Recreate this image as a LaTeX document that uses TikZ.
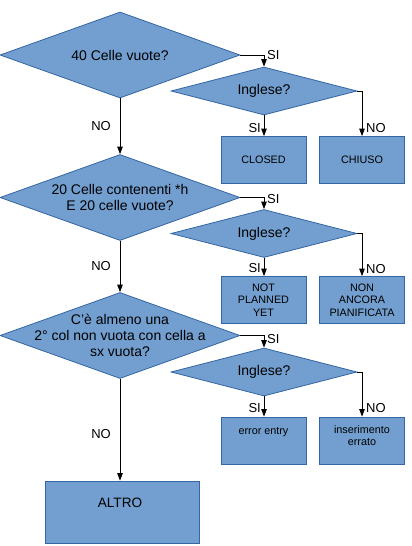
\documentclass[tikz,border=0pt]{standalone}
\usepackage{fontspec}
\setmainfont{Liberation Sans}
\usetikzlibrary{shapes.geometric,arrows.meta,calc}
\definecolor{fillb}{HTML}{729FCF}
\definecolor{lineb}{HTML}{3465A4}
\begin{document}
\begin{tikzpicture}[x=1pt,y=-1pt,
  dia/.style={diamond,draw=lineb,fill=fillb,line width=0.8pt,inner sep=0pt,aspect=1},
  bigdia/.style={dia,minimum width=240,minimum height=86},
  smalldia/.style={dia,minimum width=186,minimum height=48},
  box/.style={rectangle,draw=lineb,fill=fillb,line width=0.8pt,inner sep=0pt,align=center,
    font=\fontsize{10.8}{12.3}\selectfont},
  rbox/.style={box,minimum width=85,minimum height=47},
  dtext/.style={inner sep=0pt,align=center,font=\fontsize{14}{16.3}\selectfont},
  btext/.style={inner sep=0pt,align=center,font=\fontsize{10.8}{12.3}\selectfont},
  lbl/.style={inner sep=0pt,font=\fontsize{13}{14}\selectfont},
  arr/.style={draw=black,line width=0.8pt,-{Triangle[length=7.5pt,width=5.5pt]}}
]
\useasboundingbox (0,0) rectangle (412,546);

% first block
\node[bigdia] (d1) at (120,55) {};
\node[dtext] (t1) at (d1.center) {40 Celle vuote?};
\node[smalldia] (s1) at (264,91) {};
\node[dtext] (ts1) at (s1.center) {Inglese?};
\node[rbox] (b1) at (263.5,160) {CLOSED};
\node[rbox] (b2) at (362,160) {CHIUSO};

% second block
\node[bigdia] (d2) at (120,197.5) {};
\node[dtext] (t2) at (d2.center) {20 Celle contenenti *h\\E 20 celle vuote?};
\node[smalldia] (s2) at (264,233.5) {};
\node[dtext] (ts2) at (s2.center) {Inglese?};
\node[rbox] (b3) at (263.5,300) {NOT\\PLANNED\\YET};
\node[rbox] (b4) at (362,300) {NON\\ANCORA\\PIANIFICATA};

% third block
\node[bigdia] (d3) at (120,335.5) {};
\node[dtext] (t3) at (d3.center) {C'è almeno una\\2° col non vuota con cella a\\sx vuota?};
\node[smalldia] (s3) at (264,372) {};
\node[dtext] (ts3) at (s3.center) {Inglese?};
\node[rbox] (b5) at (263.5,440.5) {};
\node[btext,anchor=mid] (tb5) at (263.5,432) {error entry};
\node[rbox] (b6) at (362,440.5) {};
\node[btext,anchor=north] (tb6) at (362,425.5) {inserimento\\errato};

\node[box,minimum width=154,minimum height=62] (b7) at (122,512) {};
\node[inner sep=0pt,anchor=mid,font=\fontsize{13.6}{16}\selectfont] (tb7) at (120,505) {ALTRO};

% connectors
\draw[arr] (d1.east) -| (s1.north);
\draw[arr] (s1.south) -- (s1.south |- b1.north);
\draw[arr] (s1.east) -| (b2.north);
\draw[arr] (d1.south) -- (d2.north);

\draw[arr] (d2.east) -| (s2.north);
\draw[arr] (s2.south) -- (s2.south |- b3.north);
\draw[arr] (s2.east) -| (b4.north);
\draw[arr] (d2.south) -- (d3.north);

\draw[arr] (d3.east) -| (s3.north);
\draw[arr] (s3.south) -- (s3.south |- b5.north);
\draw[arr] (s3.east) -| (b6.north);
\draw[arr] (d3.south) -- (d3.south |- b7.north);

% labels
\node[lbl,anchor=west] (l1) at (267,55) {SI};
\node[lbl,anchor=east] (l2) at (261,128) {SI};
\node[lbl,anchor=west] (l3) at (366,128) {NO};
\node[lbl,anchor=east] (l4) at (111,126) {NO};

\node[lbl,anchor=west] (l5) at (267,199) {SI};
\node[lbl,anchor=east] (l6) at (261,268) {SI};
\node[lbl,anchor=west] (l7) at (366,269) {NO};
\node[lbl,anchor=east] (l8) at (111,266) {NO};

\node[lbl,anchor=west] (l9) at (267,339) {SI};
\node[lbl,anchor=east] (l10) at (261,408) {SI};
\node[lbl,anchor=west] (l11) at (366,408) {NO};
\node[lbl,anchor=east] (l12) at (111,434) {NO};
\end{tikzpicture}
\end{document}
